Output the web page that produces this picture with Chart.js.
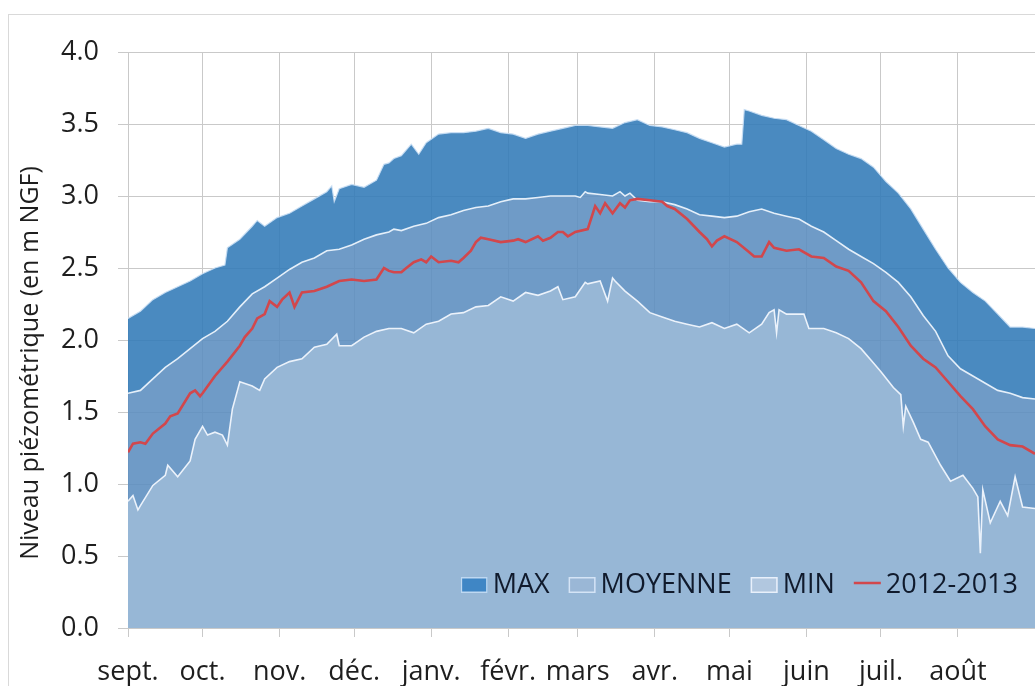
<!DOCTYPE html>
<html lang="fr">
<head>
<meta charset="utf-8">
<title>Niveau piézométrique</title>
<script src="https://cdn.jsdelivr.net/npm/chart.js@4.4.0/dist/chart.umd.min.js"></script>
<style>
    html, body { margin: 0; padding: 0; background: #fff; overflow: hidden; }
    #wrap { position: relative; width: 1035px; height: 686px; }
    #frame { position: absolute; left: 8px; top: 14px; width: 1040px; height: 700px; border: 1px solid #d9d9d9; box-sizing: border-box; }
    #levelChart { position: absolute; left: 0; top: 0; }
</style>
</head>
<body>
<div id="wrap">
    <div id="frame"></div>
    <canvas id="levelChart" width="1035" height="686"></canvas>
</div>
<script>
// Month boundaries (day of hydrological year starting 1 Sept) and their labels
const monthStarts = [0, 30, 61, 91, 122, 153, 181, 212, 242, 273, 303, 334, 365];
const monthLabels = ['sept.', 'oct.', 'nov.', 'déc.', 'janv.', 'févr.', 'mars', 'avr.', 'mai', 'juin', 'juil.', 'août', ''];
const yTicks = [0, 0.5, 1, 1.5, 2, 2.5, 3, 3.5, 4];

// MAX envelope
const maxDays = [0,5,10,15,20,25,30,35,39,40,45,50,52,55,60,65,70,75,80,82,83,85,90,95,100,103,105,107,110,114,117,120,125,130,135,140,145,150,155,160,165,170,175,180,185,190,195,200,205,210,215,220,225,230,235,240,245,247,248,250,255,260,265,270,275,280,285,290,295,300,305,310,315,320,325,330,335,340,345,350,355,360,365];
const maxLevels = [2.15,2.20,2.28,2.33,2.37,2.41,2.46,2.50,2.52,2.64,2.70,2.79,2.83,2.79,2.85,2.88,2.93,2.98,3.03,3.07,2.96,3.05,3.08,3.06,3.11,3.22,3.23,3.26,3.28,3.36,3.29,3.37,3.43,3.44,3.44,3.45,3.47,3.44,3.43,3.40,3.43,3.45,3.47,3.49,3.49,3.48,3.47,3.51,3.53,3.49,3.48,3.46,3.44,3.40,3.37,3.34,3.36,3.36,3.60,3.59,3.56,3.54,3.53,3.49,3.45,3.39,3.33,3.29,3.26,3.20,3.10,3.02,2.91,2.77,2.63,2.50,2.40,2.33,2.27,2.18,2.09,2.09,2.08];

// MOYENNE
const moyDays = [0,5,10,15,20,25,30,35,40,45,50,55,60,65,70,75,80,85,90,95,100,105,107,110,115,120,125,130,135,140,145,150,155,160,165,170,175,180,182,184,185,190,195,198,200,202,205,210,215,220,225,230,235,240,245,250,255,260,265,270,275,280,285,290,295,300,305,310,315,320,325,330,335,340,345,350,355,360,365];
const moyLevels = [1.63,1.65,1.73,1.81,1.87,1.94,2.01,2.06,2.13,2.23,2.32,2.37,2.43,2.49,2.54,2.57,2.62,2.63,2.66,2.70,2.73,2.75,2.77,2.76,2.79,2.81,2.85,2.87,2.90,2.92,2.93,2.96,2.98,2.98,2.99,3.00,3.00,3.00,2.99,3.03,3.02,3.01,3.00,3.03,3.00,3.02,2.97,2.96,2.96,2.94,2.91,2.87,2.86,2.85,2.86,2.89,2.91,2.88,2.86,2.84,2.79,2.75,2.69,2.63,2.58,2.53,2.47,2.40,2.30,2.17,2.06,1.89,1.80,1.75,1.70,1.65,1.63,1.60,1.59];

// MIN envelope
const minDays = [0,2,4,5,10,15,16,20,25,27,30,32,35,38,40,42,45,50,53,55,60,65,70,75,80,84,85,90,95,100,105,110,115,120,125,130,135,140,145,150,155,160,165,170,173,175,180,184,185,190,193,195,196,200,205,210,215,220,225,230,235,240,245,250,255,258,260,261,262,265,272,274,280,285,290,295,300,303,308,311,312,313,316,319,322,327,331,336,340,342,343,344,347,351,354,357,360,365];
const minLevels = [0.88,0.92,0.82,0.85,0.99,1.06,1.13,1.05,1.16,1.31,1.40,1.34,1.36,1.34,1.27,1.52,1.71,1.68,1.65,1.73,1.81,1.85,1.87,1.95,1.97,2.04,1.96,1.96,2.02,2.06,2.08,2.08,2.05,2.11,2.13,2.18,2.19,2.23,2.24,2.30,2.27,2.33,2.31,2.34,2.37,2.28,2.30,2.40,2.39,2.41,2.27,2.43,2.41,2.34,2.27,2.19,2.16,2.13,2.11,2.09,2.12,2.08,2.11,2.05,2.11,2.19,2.21,2.05,2.21,2.18,2.18,2.08,2.08,2.05,2.01,1.94,1.84,1.78,1.67,1.62,1.40,1.54,1.43,1.31,1.29,1.13,1.02,1.06,0.97,0.91,0.52,0.96,0.73,0.88,0.78,1.05,0.84,0.83];

// Year 2012-2013
const yearDays = [0,2,5,7,10,15,17,20,25,27,29,30,35,40,45,47,50,52,55,57,60,62,65,67,70,75,80,85,90,95,100,103,105,107,110,112,115,118,120,122,125,130,133,135,138,140,142,145,150,155,157,160,165,167,170,173,175,177,180,185,188,190,192,195,198,200,202,205,210,215,217,220,225,230,233,235,237,240,245,250,252,255,258,260,265,270,275,280,285,290,295,300,305,310,315,320,325,330,335,340,345,350,355,360,365];
const yearLevels = [1.22,1.28,1.29,1.28,1.35,1.42,1.47,1.49,1.63,1.65,1.61,1.63,1.75,1.85,1.96,2.02,2.08,2.15,2.18,2.27,2.23,2.28,2.33,2.23,2.33,2.34,2.37,2.41,2.42,2.41,2.42,2.50,2.48,2.47,2.47,2.50,2.54,2.56,2.54,2.58,2.54,2.55,2.54,2.57,2.62,2.68,2.71,2.70,2.68,2.69,2.70,2.68,2.72,2.69,2.71,2.75,2.75,2.72,2.75,2.77,2.93,2.88,2.95,2.88,2.95,2.92,2.97,2.98,2.97,2.96,2.93,2.91,2.84,2.75,2.70,2.65,2.69,2.72,2.68,2.61,2.58,2.58,2.68,2.64,2.62,2.63,2.58,2.57,2.51,2.48,2.40,2.27,2.20,2.09,1.96,1.87,1.81,1.71,1.61,1.52,1.40,1.31,1.27,1.26,1.21];

const FONT = "'Open Sans', 'DejaVu Sans', sans-serif";
Chart.defaults.font.family = FONT;
Chart.defaults.color = '#1e1e1e';

function toPoints(days, levels) {
    return days.map((d, i) => ({ x: d, y: levels[i] }));
}

// Legend drawn over the bottom-right of the plot area
const insideLegend = {
    id: 'insideLegend',
    afterDraw(chart) {
        const ctx = chart.ctx;
        const area = chart.chartArea;
        const items = [
            { text: 'MAX', kind: 'box', fill: '#3f86c5', stroke: 'rgba(205,225,245,0.9)' },
            { text: 'MOYENNE', kind: 'box', fill: '#9ab7d6', stroke: 'rgba(215,230,248,0.95)' },
            { text: 'MIN', kind: 'box', fill: '#b1c7df', stroke: 'rgba(235,242,252,0.95)' },
            { text: '2012-2013', kind: 'line', stroke: '#d2474c' }
        ];
        ctx.save();
        ctx.font = '27px ' + FONT;
        const swatch = 27, gapIn = 5, gapOut = 19;
        let total = 0;
        items.forEach((it, i) => {
            it.w = ctx.measureText(it.text).width;
            total += swatch + gapIn + it.w + (i < items.length - 1 ? gapOut : 0);
        });
        let x = area.right - 17 - total;
        const base = area.bottom - 35;
        items.forEach(it => {
            if (it.kind === 'box') {
                ctx.fillStyle = it.fill;
                ctx.fillRect(x, base - 16, swatch, 16);
                ctx.strokeStyle = it.stroke;
                ctx.lineWidth = 1.5;
                ctx.strokeRect(x + 0.75, base - 15.25, swatch - 1.5, 14.5);
            } else {
                ctx.strokeStyle = it.stroke;
                ctx.lineWidth = 2.5;
                ctx.beginPath();
                ctx.moveTo(x, base - 10);
                ctx.lineTo(x + swatch, base - 10);
                ctx.stroke();
            }
            x += swatch + gapIn;
            ctx.fillStyle = '#101a2c';
            ctx.textBaseline = 'alphabetic';
            ctx.textAlign = 'left';
            ctx.fillText(it.text, x, base);
            x += it.w + gapOut;
        });
        ctx.restore();
    }
};

// Rotated y-axis title
const yTitle = {
    id: 'yTitle',
    afterDraw(chart) {
        const ctx = chart.ctx;
        ctx.save();
        ctx.translate(31, 363);
        ctx.rotate(-Math.PI / 2);
        ctx.font = '25px ' + FONT;
        ctx.fillStyle = '#1e1e1e';
        ctx.textAlign = 'center';
        ctx.textBaseline = 'middle';
        ctx.fillText('Niveau piézométrique (en m NGF)', 0, 0);
        ctx.restore();
    }
};

const ctx = document.getElementById('levelChart').getContext('2d');
new Chart(ctx, {
    type: 'line',
    data: {
        datasets: [
            {
                label: 'MAX',
                data: toPoints(maxDays, maxLevels),
                borderColor: 'rgba(200,222,244,0.9)',
                borderWidth: 1.2,
                backgroundColor: 'rgba(49,122,183,0.88)',
                fill: '+1'
            },
            {
                label: 'MOYENNE',
                data: toPoints(moyDays, moyLevels),
                borderColor: 'rgba(235,243,252,0.95)',
                borderWidth: 1.6,
                backgroundColor: 'rgba(91,141,191,0.88)',
                fill: '+1'
            },
            {
                label: 'MIN',
                data: toPoints(minDays, minLevels),
                borderColor: 'rgba(240,246,253,0.95)',
                borderWidth: 1.6,
                backgroundColor: 'rgb(151,183,214)',
                fill: 'origin'
            },
            {
                label: '2012-2013',
                data: toPoints(yearDays, yearLevels),
                borderColor: '#d2474c',
                borderWidth: 2.6,
                fill: false,
                order: -1
            }
        ]
    },
    options: {
        responsive: false,
        animation: false,
        events: [],
        layout: { padding: { top: 52, right: 0, bottom: 0, left: 0 } },
        elements: {
            point: { radius: 0, hoverRadius: 0 },
            line: { tension: 0 }
        },
        plugins: {
            legend: { display: false },
            tooltip: { enabled: false },
            filler: { drawTime: 'beforeDatasetsDraw' }
        },
        scales: {
            x: {
                type: 'linear',
                min: 0,
                max: 365,
                afterBuildTicks(scale) {
                    scale.ticks = monthStarts.map(v => ({ value: v }));
                },
                afterFit(scale) {
                    scale.height = 58;
                    scale.paddingLeft = 0;
                    scale.paddingRight = 0;
                },
                ticks: {
                    autoSkip: false,
                    maxRotation: 0,
                    padding: 19,
                    font: { size: 27 },
                    color: '#1e1e1e',
                    callback: (value) => monthLabels[monthStarts.indexOf(value)] || ''
                },
                grid: { color: '#c9c9c9', lineWidth: 1, tickLength: 9 },
                border: { display: true, color: '#c9c9c9' }
            },
            y: {
                min: 0,
                max: 4,
                afterBuildTicks(scale) {
                    scale.ticks = yTicks.map(v => ({ value: v }));
                },
                afterFit(scale) {
                    scale.width = 128;
                },
                ticks: {
                    padding: 19,
                    font: { size: 27 },
                    color: '#1e1e1e',
                    callback: (value) => value.toFixed(1)
                },
                grid: { color: '#c9c9c9', lineWidth: 1, tickLength: 10 },
                border: { display: true, color: '#c9c9c9' }
            }
        }
    },
    plugins: [insideLegend, yTitle]
});
</script>
</body>
</html>
